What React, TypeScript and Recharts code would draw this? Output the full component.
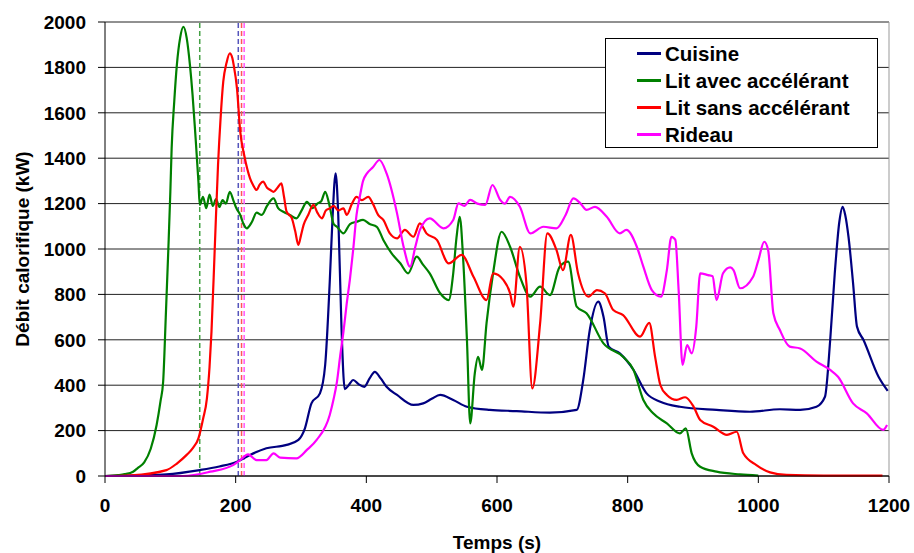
import { LineChart, Line, XAxis, YAxis, CartesianGrid, Legend, ReferenceLine, Label } from 'recharts';

// Heat release rate curves (kW) vs time (s)
const cuisineT = [0, 50, 94, 145, 175, 202, 222, 247, 278, 296, 306, 316, 329, 337, 344, 348, 353, 357, 362, 367, 373, 380, 388, 397, 405, 413, 422, 431, 447, 472, 487, 500, 513, 533, 554, 589, 630, 681, 722, 732, 742, 755, 763, 771, 788, 809, 829, 850, 880, 936, 987, 1033, 1064, 1089, 1102, 1110, 1117, 1124, 1129, 1133, 1138, 1145, 1151, 1161, 1184, 1198];
const cuisineQ = [0, 3, 7, 26, 42, 63, 93, 122, 137, 159, 210, 320, 364, 489, 856, 1120, 1333, 1150, 650, 383, 400, 423, 405, 393, 430, 459, 430, 393, 357, 313, 320, 340, 357, 335, 305, 291, 286, 279, 291, 423, 643, 768, 702, 570, 540, 467, 364, 327, 305, 291, 283, 294, 291, 305, 349, 599, 893, 1120, 1186, 1150, 1054, 850, 658, 599, 437, 375];

const litAvecT = [0, 20, 30, 43, 50, 60, 70, 79, 85, 89, 93, 97, 100, 102, 106, 110, 115, 120, 125, 130, 134, 138, 143, 145, 150, 155, 160, 165, 170, 175, 180, 185, 191, 197, 201, 207, 212, 217, 225, 232, 240, 248, 258, 265, 273, 283, 293, 301, 309, 318, 325, 331, 337, 343, 350, 355, 365, 375, 385, 395, 405, 416, 426, 439, 452, 464, 477, 487, 497, 513, 526, 533, 538, 543, 548, 554, 559, 566, 571, 577, 584, 594, 607, 620, 635, 651, 666, 681, 696, 709, 722, 737, 763, 793, 809, 824, 839, 860, 880, 889, 898, 911, 936, 972, 1000];
const litAvecQ = [0, 4, 8, 19, 35, 60, 120, 225, 330, 415, 700, 1003, 1250, 1443, 1650, 1811, 1930, 1979, 1930, 1811, 1680, 1517, 1297, 1194, 1230, 1180, 1240, 1190, 1220, 1185, 1215, 1200, 1252, 1210, 1180, 1150, 1110, 1091, 1120, 1160, 1150, 1190, 1223, 1180, 1164, 1150, 1135, 1170, 1208, 1180, 1200, 1210, 1252, 1200, 1110, 1098, 1069, 1110, 1120, 1128, 1110, 1098, 1040, 980, 937, 893, 966, 930, 893, 805, 775, 893, 1050, 1142, 966, 599, 232, 452, 525, 467, 673, 893, 1076, 1010, 878, 790, 834, 797, 922, 944, 746, 717, 584, 525, 467, 335, 276, 232, 188, 210, 100, 41, 19, 7, 2];

const litSansT = [0, 40, 94, 110, 125, 135, 143, 150, 156, 160, 163, 168, 173, 177, 181, 186, 191, 195, 197, 202, 207, 213, 218, 222, 227, 232, 237, 242, 248, 253, 258, 264, 270, 274, 278, 282, 286, 291, 296, 300, 304, 311, 319, 325, 332, 338, 344, 350, 357, 365, 370, 378, 385, 393, 403, 410, 418, 426, 436, 447, 459, 472, 482, 492, 508, 526, 546, 564, 584, 594, 610, 620, 625, 635, 645, 654, 666, 677, 691, 701, 713, 724, 740, 753, 765, 778, 793, 819, 833, 842, 850, 860, 875, 888, 901, 911, 931, 952, 967, 977, 997, 1018, 1043, 1100, 1190];
const litSansQ = [0, 3, 26, 55, 93, 125, 166, 250, 342, 480, 636, 1003, 1370, 1580, 1737, 1820, 1862, 1840, 1810, 1708, 1517, 1414, 1350, 1311, 1280, 1260, 1285, 1297, 1270, 1260, 1252, 1270, 1289, 1230, 1164, 1150, 1135, 1080, 1018, 1060, 1106, 1150, 1194, 1160, 1135, 1170, 1179, 1190, 1170, 1179, 1150, 1200, 1230, 1215, 1230, 1200, 1150, 1128, 1069, 1047, 1084, 1054, 1113, 1069, 1040, 937, 974, 878, 775, 893, 863, 805, 746, 1010, 849, 386, 673, 1069, 996, 907, 1062, 893, 790, 819, 805, 731, 709, 614, 675, 525, 401, 357, 335, 347, 305, 247, 217, 181, 195, 100, 48, 16, 5, 2, 2];

const rideauT = [0, 120, 161, 196, 207, 219, 232, 247, 258, 268, 293, 309, 324, 344, 350, 355, 360, 365, 370, 375, 380, 385, 390, 395, 401, 410, 420, 431, 447, 457, 467, 475, 482, 497, 518, 533, 541, 550, 559, 570, 582, 593, 605, 612, 620, 635, 651, 671, 691, 705, 717, 728, 737, 750, 768, 788, 798, 814, 824, 837, 851, 860, 867, 873, 878, 884, 891, 898, 905, 911, 923, 930, 936, 946, 957, 962, 972, 992, 1000, 1009, 1015, 1023, 1033, 1048, 1064, 1089, 1110, 1122, 1145, 1166, 1191, 1197];
const rideauQ = [0, 0, 19, 48, 70, 95, 70, 70, 100, 81, 78, 115, 159, 269, 340, 415, 530, 636, 760, 870, 1000, 1150, 1230, 1300, 1333, 1360, 1392, 1333, 1157, 1010, 922, 1010, 1084, 1135, 1091, 1128, 1201, 1190, 1216, 1200, 1194, 1282, 1216, 1200, 1230, 1186, 1069, 1098, 1091, 1150, 1223, 1200, 1172, 1186, 1142, 1069, 1084, 1010, 922, 819, 790, 907, 1054, 1040, 819, 489, 577, 540, 658, 893, 885, 880, 775, 893, 919, 907, 827, 878, 950, 1032, 996, 717, 643, 570, 562, 504, 467, 437, 320, 276, 203, 225];

const seriesNames = ['Cuisine', 'Lit avec accélérant', 'Lit sans accélérant', 'Rideau'];
const seriesColors = ['#000080', '#008000', '#ff0000', '#ff00ff'];
const ignitionTimes = [145, 204, 209, 213];
const ignitionColors = ['#44a044', '#5555bb', '#ff5555', '#ff55ff'];

const xTicks = [0, 200, 400, 600, 800, 1000, 1200];
const yTicks = [0, 200, 400, 600, 800, 1000, 1200, 1400, 1600, 1800, 2000];

const toData = (t: number[], q: number[]) => t.map((v, i) => ({ t: v, q: q[i] }));
const seriesData = [
  toData(cuisineT, cuisineQ),
  toData(litAvecT, litAvecQ),
  toData(litSansT, litSansQ),
  toData(rideauT, rideauQ),
];

const FONT = '"Liberation Sans", Arial, sans-serif';
const tickStyle = { fill: '#000', fontSize: 19, fontWeight: 'bold', fontFamily: FONT };

const LegendBox = () => (
  <div
    style={{
      width: 273,
      height: 110,
      border: '1px solid #000',
      background: '#fff',
      fontFamily: FONT,
      fontWeight: 'bold',
      fontSize: 20.5,
      color: '#000',
      paddingTop: 1,
      boxSizing: 'border-box',
    }}
  >
    {seriesNames.map((name, i) => (
      <div key={name} style={{ display: 'flex', alignItems: 'center', height: 27 }}>
        <div style={{ width: 24, height: 3, background: seriesColors[i], marginLeft: 31, marginRight: 4 }} />
        <span>{name}</span>
      </div>
    ))}
  </div>
);

export default function App() {
  return (
    <div style={{ position: 'fixed', left: 0, top: 0, width: 914, height: 553, background: '#fff' }}>
      <LineChart width={914} height={553} margin={{ top: 22, right: 25, bottom: 0, left: 0 }}>
        <CartesianGrid vertical={false} stroke="#222" />
        <XAxis
          type="number"
          dataKey="t"
          domain={[0, 1200]}
          ticks={xTicks}
          allowDuplicatedCategory={false}
          height={77}
          tickSize={7}
          tickMargin={16}
          tick={tickStyle}
          stroke="#000"
        >
          <Label value="Temps (s)" position="insideBottom" offset={4} style={{ fill: '#000', fontSize: 19, fontWeight: 'bold', fontFamily: FONT }} />
        </XAxis>
        <YAxis
          type="number"
          domain={[0, 2000]}
          ticks={yTicks}
          width={105}
          tickSize={7}
          tickMargin={12}
          tick={tickStyle}
          stroke="#000"
          label={({ viewBox }: any) => (
            <text
              x={viewBox.x + 22}
              y={viewBox.y + viewBox.height / 2}
              transform={`rotate(-90, ${viewBox.x + 22}, ${viewBox.y + viewBox.height / 2})`}
              textAnchor="middle"
              dominantBaseline="central"
              style={{ fill: '#000', fontSize: 19, fontWeight: 'bold', fontFamily: FONT }}
            >
              Débit calorifique (kW)
            </text>
          )}
        />
        <ReferenceLine x={1200} stroke="#999" />
        {ignitionTimes.map((x, i) => (
          <ReferenceLine key={`ign-${i}`} x={x} stroke={ignitionColors[i]} strokeDasharray="5 3" strokeWidth={1.5} />
        ))}
        {seriesNames.map((name, i) => (
          <Line
            key={name}
            name={name}
            data={seriesData[i]}
            dataKey="q"
            type="monotone"
            stroke={seriesColors[i]}
            strokeWidth={2.2}
            dot={false}
            isAnimationActive={false}
          />
        ))}
        <Legend
          layout="vertical"
          align="center"
          verticalAlign="middle"
          content={() => <LegendBox />}
          wrapperStyle={{ left: 605, top: 38, width: 273, height: 110 }}
        />
      </LineChart>
    </div>
  );
}
